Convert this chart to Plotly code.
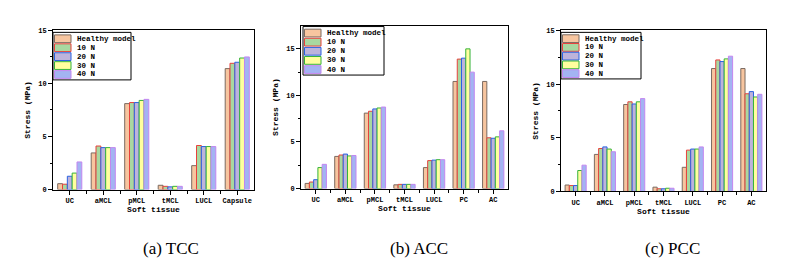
import plotly.graph_objects as go

W, H = 811, 267

series_names = ["Healthy model", "10 N", "20 N", "30 N", "40 N"]
fill_colors = ["#F7C59F", "#A8D8A0", "#BDB3DB", "#FFFF9E", "#A3B4F2"]
line_colors = ["#7A6A60", "#E8413C", "#2A62E0", "#35B23A", "#C486F0"]

cats_tcc = ["UC", "aMCL", "pMCL", "tMCL", "LUCL", "Capsule"]
tcc_healthy = [0.55, 3.45, 8.1, 0.4, 2.25, 11.4]
tcc_10 = [0.5, 4.1, 8.2, 0.3, 4.15, 11.9]
tcc_20 = [1.25, 3.95, 8.2, 0.25, 4.05, 12.0]
tcc_30 = [1.55, 3.95, 8.4, 0.3, 4.05, 12.4]
tcc_40 = [2.6, 3.95, 8.5, 0.3, 4.05, 12.5]

cats_acc = ["UC", "aMCL", "pMCL", "tMCL", "LUCL", "PC", "AC"]
acc_healthy = [0.55, 3.45, 8.1, 0.4, 2.25, 11.5, 11.5]
acc_10 = [0.7, 3.6, 8.3, 0.45, 3.0, 13.9, 5.45]
acc_20 = [0.95, 3.7, 8.55, 0.45, 3.05, 14.0, 5.4]
acc_30 = [2.25, 3.5, 8.65, 0.45, 3.1, 15.0, 5.55]
acc_40 = [2.6, 3.55, 8.75, 0.45, 3.1, 12.5, 6.2]

cats_pcc = ["UC", "aMCL", "pMCL", "tMCL", "LUCL", "PC", "AC"]
pcc_healthy = [0.6, 3.45, 8.1, 0.4, 2.25, 11.45, 11.45]
pcc_10 = [0.55, 4.0, 8.35, 0.25, 3.85, 12.25, 9.1]
pcc_20 = [0.55, 4.15, 8.15, 0.25, 3.95, 12.1, 9.3]
pcc_30 = [1.95, 3.95, 8.35, 0.3, 3.95, 12.35, 8.8]
pcc_40 = [2.45, 3.7, 8.65, 0.3, 4.15, 12.6, 9.05]

captions = ["(a) TCC", "(b) ACC", "(c) PCC"]
y_max = [15, 17.5, 15]

panels = [
    (cats_tcc, [tcc_healthy, tcc_10, tcc_20, tcc_30, tcc_40]),
    (cats_acc, [acc_healthy, acc_10, acc_20, acc_30, acc_40]),
    (cats_pcc, [pcc_healthy, pcc_10, pcc_20, pcc_30, pcc_40]),
]

# plot-area pixel boxes (left, right, top, bottom)
boxes = [(45, 246, 19, 183), (293, 500, 14, 182), (553, 758, 19, 185)]
caption_x = [163, 411, 664]
legend_boxes = [(45, 123, 21, 70), (295, 376, 15, 65), (553, 633, 21, 69)]

def px(x):
    return x / W

def py(y):
    return 1 - y / H

tick_font = dict(family="Liberation Mono", size=7, color="black")
title_font = dict(family="Liberation Mono", size=8, color="black")

fig = go.Figure()
shapes = []
annotations = []

for i, (cats, vals) in enumerate(panels):
    sfx = "" if i == 0 else str(i + 1)
    xpos = list(range(len(cats)))
    for k in range(5):
        fig.add_trace(go.Bar(
            x=xpos, y=vals[k], name=series_names[k],
            marker=dict(color=fill_colors[k], line=dict(color=line_colors[k], width=1)),
            xaxis="x" + sfx, yaxis="y" + sfx, showlegend=False,
        ))
    l, r, t, b = boxes[i]
    fig.layout["xaxis" + sfx] = dict(
        domain=[px(l), px(r)], anchor="y" + sfx,
        range=[-0.5, len(cats) - 0.5],
        tickvals=xpos, ticktext=["<b>%s</b>" % c for c in cats],
        ticks="outside", ticklen=4, tickcolor="black",
        minor=dict(tickvals=[p + 0.5 for p in xpos[:-1]], ticks="outside", ticklen=3, tickcolor="black"),
        showline=True, linecolor="black", linewidth=1, mirror=True,
        showgrid=False, zeroline=False, tickfont=tick_font,
        title=dict(text="<b>Soft tissue</b>", font=title_font, standoff=0),
    )
    fig.layout["yaxis" + sfx] = dict(
        domain=[py(b), py(t)], anchor="x" + sfx,
        range=[0, y_max[i]], tickvals=[0, 5, 10, 15],
        ticktext=["<b>%d</b>" % v for v in [0, 5, 10, 15]],
        ticks="outside", ticklen=4, tickcolor="black",
        minor=dict(tickvals=[2.5, 7.5, 12.5], ticks="outside", ticklen=2, tickcolor="black"),
        showline=True, linecolor="black", linewidth=1, mirror=True,
        showgrid=False, zeroline=False, tickfont=tick_font,
        title=dict(text="<b>Stress (MPa)</b>", font=title_font, standoff=6),
    )
    annotations.append(dict(
        text=captions[i], x=px(caption_x[i]), y=py(244), xref="paper", yref="paper",
        xanchor="center", yanchor="middle", showarrow=False,
        font=dict(family="Liberation Serif", size=17, color="black"),
    ))
    # legend
    lx0, lx1, ly0, ly1 = legend_boxes[i]
    shapes.append(dict(type="rect", xref="paper", yref="paper",
                       x0=px(lx0), x1=px(lx1), y0=py(ly1), y1=py(ly0),
                       line=dict(color="black", width=1), fillcolor="white", layer="above"))
    step = (ly1 - ly0 - 3) / 5
    for k in range(5):
        cy = ly0 + 2 + step * (k + 0.5)
        shapes.append(dict(type="rect", xref="paper", yref="paper",
                           x0=px(lx0 + 1.5), x1=px(lx0 + 18), y0=py(cy + 4), y1=py(cy - 4),
                           line=dict(color=line_colors[k], width=1), fillcolor=fill_colors[k], layer="above"))
        annotations.append(dict(
            text="<b>%s</b>" % series_names[k], x=px(lx0 + 22), y=py(cy),
            xref="paper", yref="paper", xanchor="left", yanchor="middle", showarrow=False,
            font=dict(family="Liberation Mono", size=7.5, color="black"),
        ))

fig.update_layout(
    width=W, height=H, autosize=False,
    margin=dict(l=0, r=0, t=0, b=0),
    paper_bgcolor="white", plot_bgcolor="white",
    barmode="group", bargap=0.28, bargroupgap=0,
    shapes=shapes, annotations=annotations,
)

fig.write_html("out.html")
